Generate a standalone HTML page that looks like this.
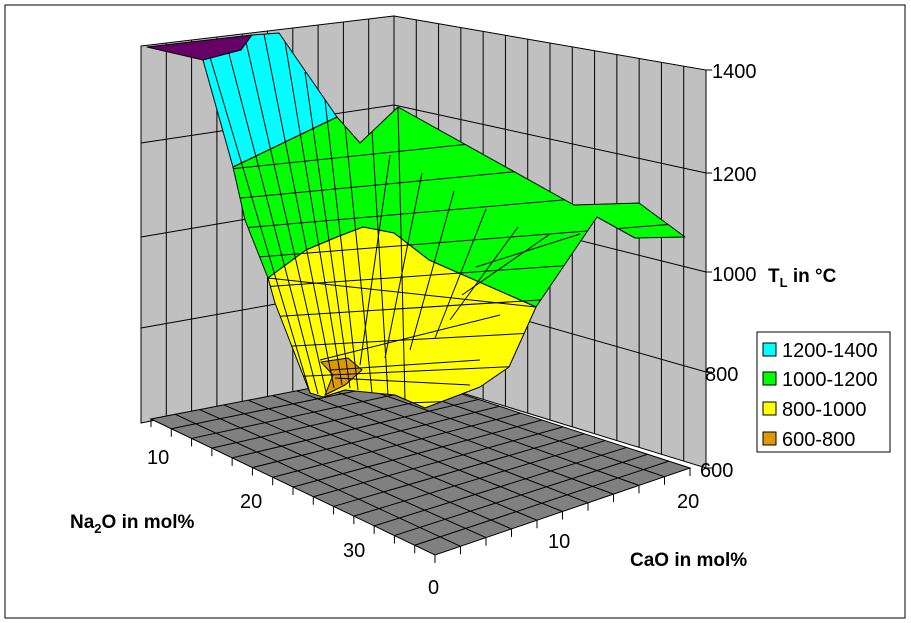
<!DOCTYPE html>
<html><head><meta charset="utf-8"><style>
html,body{margin:0;padding:0;background:#fff;}
svg{display:block;font-family:"Liberation Sans",Arial,sans-serif;}
</style></head><body>
<svg id="s" width="911" height="623" viewBox="0 0 911 623" xmlns="http://www.w3.org/2000/svg">
<rect x="5" y="5" width="900" height="613" fill="#fff" stroke="#000" stroke-width="1"/>
<polygon points="141,46 394,16 394,372 141,423" fill="#c0c0c0" stroke="#000" stroke-width="1"/>
<polygon points="394,16 706,70 706,468 394,372" fill="#c0c0c0" stroke="#000" stroke-width="1"/>
<g id="walllines" stroke="#000" stroke-width="1" fill="none"></g>
<polygon points="151,419 435,555 690,468 394,372" fill="#808080" stroke="#000" stroke-width="1"/>
<g id="floorlines" stroke="#000" stroke-width="1" fill="none"></g>
<defs>
<clipPath id="surf">
<polygon points="147,47 252,35 279,33 337,117 360,143 398,107 574,205 639,203 685,237 635,238 597,217 536,307 509,367 480,387 425,408 395,395 345,390 323,397 310,393 275,303 268,278 245,220 233,167 203,60"/>
</clipPath>
</defs>
<g stroke="#000" stroke-width="1" stroke-linejoin="round">
<polygon points="233,167 337,117 360,143 398,107 574,205 639,203 685,237 635,238 597,217 536,307 429,260 394,233 363,227 337,237 306,250 268,278 245,220" fill="#00ff00"/>
<polygon points="268,278 306,250 337,237 363,227 394,233 429,260 536,307 509,367 480,387 425,408 395,395 345,390 323,397 310,393 275,303" fill="#ffff00"/>
<polygon points="203,60 252,35 279,33 337,117 233,167" fill="#00ffff"/>
<polygon points="147,47 252,35 241,50 203,60" fill="#660066"/>
<polygon points="321,362 348,358 362,370 345,385 325,395 333,375" fill="#dd9900"/>
</g>
<g id="meshlines" clip-path="url(#surf)" stroke="#000" stroke-width="1" fill="none"></g>
<g id="ticks" stroke="#000" stroke-width="1"></g>
<g font-size="20" fill="#000">
<text x="712" y="78">1400</text>
<text x="712" y="181">1200</text>
<text x="712" y="281">1000</text>
<text x="705" y="381">800</text>
<text x="700" y="477">600</text>
<text x="147" y="464">10</text>
<text x="240" y="508">20</text>
<text x="343" y="557">30</text>
<text x="428" y="594">0</text>
<text x="548" y="548">10</text>
<text x="677" y="508">20</text>
</g>
<g font-size="19" font-weight="bold" fill="#000">
<text x="768" y="282">T<tspan font-size="13" dy="5">L</tspan><tspan dy="-5"> in °C</tspan></text>
<text x="70" y="528">Na<tspan font-size="13" dy="5">2</tspan><tspan dy="-5">O in mol%</tspan></text>
<text x="630" y="566">CaO in mol%</text>
</g>
<rect x="757" y="332" width="133" height="120" fill="#fff" stroke="#000"/>
<g stroke="#000" stroke-width="1">
<rect x="763" y="343" width="13" height="13" fill="#00ffff"/>
<rect x="763" y="372" width="13" height="13" fill="#00ff00"/>
<rect x="763" y="402" width="13" height="13" fill="#ffff00"/>
<rect x="763" y="432" width="13" height="13" fill="#dd9900"/>
</g>
<g font-size="20" fill="#000">
<text x="782" y="357">1200-1400</text>
<text x="782" y="386">1000-1200</text>
<text x="782" y="416">800-1000</text>
<text x="782" y="446">600-800</text>
</g>
</svg>
<script>
(function(){
var NS="http://www.w3.org/2000/svg";
function L(g,x1,y1,x2,y2){var l=document.createElementNS(NS,"line");l.setAttribute("x1",x1);l.setAttribute("y1",y1);l.setAttribute("x2",x2);l.setAttribute("y2",y2);document.getElementById(g).appendChild(l);}
function lerp(a,b,t){return a+(b-a)*t;}
for(var i=1;i<10;i++){var t=i/10;L("walllines",lerp(141,394,t),lerp(46,16,t),lerp(141,394,t),lerp(423,372,t));}
for(var i=1;i<14;i++){var t=i/14;L("walllines",lerp(394,706,t),lerp(16,70,t),lerp(394,706,t),lerp(372,468,t));}
var le=[143,237,328],bc=[105,194,283],re=[173,272,372];
for(var k=0;k<3;k++){L("walllines",141,le[k],394,bc[k]);L("walllines",394,bc[k],706,re[k]);}
var P={L:[151,419],F:[435,555],R:[690,468],B:[394,372]};
function fp(a,b){return [P.L[0]*(1-a)*(1-b)+P.F[0]*a*(1-b)+P.R[0]*a*b+P.B[0]*(1-a)*b,
 P.L[1]*(1-a)*(1-b)+P.F[1]*a*(1-b)+P.R[1]*a*b+P.B[1]*(1-a)*b];}
for(var i=1;i<14;i++){var a=i/14,p=fp(a,0),q=fp(a,1);L("floorlines",p[0],p[1],q[0],q[1]);}
for(var j=1;j<10;j++){var b=j/10,p=fp(0,b),q=fp(1,b);L("floorlines",p[0],p[1],q[0],q[1]);}
for(var i=0;i<=14;i++){var p=fp(i/14,0);L("ticks",p[0],p[1],p[0],p[1]+8);}
for(var j=0;j<=10;j++){var p=fp(1,j/10);L("ticks",p[0],p[1],p[0],p[1]+8);}
[70,173,272,372,468].forEach(function(y){L("ticks",706,y,712,y);});
// near-vertical mesh lines from top edge to bottom edge
var tops=[[210,57],[228,50],[246,42],[264,34],[285,42],[305,72],[325,100],[345,125],[372,131],[398,107]];
var bots=[[310,393],[318,394],[326,392],[334,388],[342,385],[350,388],[358,390],[372,393],[388,395],[405,400]];
for(var i=0;i<tops.length;i++){L("meshlines",tops[i][0],tops[i][1],bots[i][0],bots[i][1]);}
// lines from back ridge down to yellow front
var tops2=[[430,125],[462,143],[494,161],[526,179],[558,197],[590,204],[620,204]];
var bots2=[[420,405],[445,398],[470,390],[495,378],[510,360],[522,335],[536,307]];
for(var i=0;i<tops2.length;i++){L("meshlines",tops2[i][0]-40,tops2[i][1]+30,bots2[i][0]-60,bots2[i][1]-40);}
// cross lines (roughly level)
for(var k=0;k<9;k++){var y=130+k*30;L("meshlines",220,y+40,700,y-10+k*4);}
L("meshlines",268,278,536,307);L("meshlines",233,167,337,117);
L("meshlines",320,360,500,315);L("meshlines",330,370,480,360);L("meshlines",335,378,470,385);
})();
</script>
</body></html>
